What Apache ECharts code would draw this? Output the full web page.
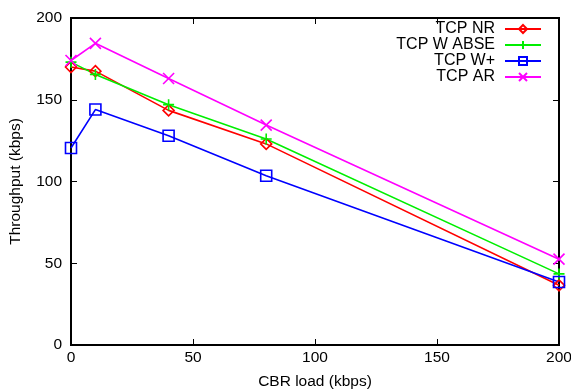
<!DOCTYPE html>
<html><head><meta charset="utf-8">
<script src="https://cdn.jsdelivr.net/npm/echarts@6/dist/echarts.min.js"></script>
<style>html,body{margin:0;padding:0;background:#fff}#c{width:571px;height:389px}</style>
</head><body><div id="c"></div>
<script>
const loads = [0, 10, 40, 80, 200];
const tcpNR = [170, 167.5, 143.5, 123, 36.5];
const tcpWABSE = [173, 165.5, 147, 126, 43.5];
const tcpWPlus = [120.5, 144, 128, 103.5, 38.5];
const tcpAR = [174, 184.5, 163, 134.5, 52.5];
const xTicks = [0, 50, 100, 150, 200];
const yTicks = [0, 50, 100, 150, 200];

const font = 'Liberation Sans, Arial, sans-serif';
const plus = 'path://M5,0 L5,10 M0,5 L10,5';
const cross = 'path://M0,0 L10,10 M10,0 L0,10';
function mk(name, data, color, symbol, size) {
  return {
    name, type: 'line', data: loads.map((x, i) => [x, data[i]]),
    symbol, symbolSize: size, showAllSymbol: true,
    lineStyle: { color, width: 1.6 },
    itemStyle: { color: 'rgba(0,0,0,0)', borderColor: color, borderWidth: 1.6 },
    emphasis: { disabled: true }, animation: false
  };
}
function axis(extra) {
  return Object.assign({
    type: 'value', min: 0, max: 200, interval: 50, show: true,
    axisLine: { show: true, onZero: false, lineStyle: { color: '#000', width: 2 } },
    axisTick: { show: true, inside: true, length: 6, lineStyle: { color: '#000', width: 1 } },
    splitLine: { show: false },
    axisLabel: { color: '#000', fontFamily: font, fontSize: 15.5 }
  }, extra);
}
const nameStyle = { color: '#000', fontFamily: font, fontSize: 15.5 };
const chart = echarts.init(document.getElementById('c'), null, { renderer: 'canvas' });
chart.setOption({
  animation: false,
  grid: { left: 71, right: 12, top: 18, bottom: 44, outerBoundsMode: 'none', containLabel: false,
    show: true, borderColor: '#000', borderWidth: 2, backgroundColor: 'transparent' },
  xAxis: [
    axis({ position: 'bottom', name: 'CBR load (kbps)', nameLocation: 'middle', nameGap: 29, nameTextStyle: nameStyle,
      axisLabel: { color: '#000', fontFamily: font, fontSize: 15.5, margin: 5, formatter: v => xTicks.includes(v) ? String(v) : '' } }),
    axis({ position: 'top', axisLabel: { show: false } })
  ],
  yAxis: [
    axis({ position: 'left', name: 'Throughput (kbps)', nameLocation: 'middle', nameGap: 47, nameRotate: 90, nameTextStyle: nameStyle,
      axisLabel: { color: '#000', fontFamily: font, fontSize: 15.5, margin: 9, formatter: v => yTicks.includes(v) ? String(v) : '' } }),
    axis({ position: 'right', axisLabel: { show: false } })
  ],
  legend: {
    orient: 'vertical', right: 29, top: 21, align: 'right', padding: 0,
    itemWidth: 36, itemHeight: 10, itemGap: 0,
    textStyle: { color: '#000', fontFamily: font, fontSize: 16, lineHeight: 15, padding: [0, 5, 0, 0] },
    data: ['TCP NR', 'TCP W ABSE', 'TCP W+', 'TCP AR']
  },
  series: [
    mk('TCP NR', tcpNR, '#ff0000', 'diamond', 11),
    mk('TCP W ABSE', tcpWABSE, '#00ee00', plus, 11),
    mk('TCP W+', tcpWPlus, '#0000ff', 'rect', 11),
    mk('TCP AR', tcpAR, '#ff00ff', cross, 11),
    { type: 'line', xAxisIndex: 1, yAxisIndex: 1, data: [], silent: true }
  ]
});
</script></body></html>
